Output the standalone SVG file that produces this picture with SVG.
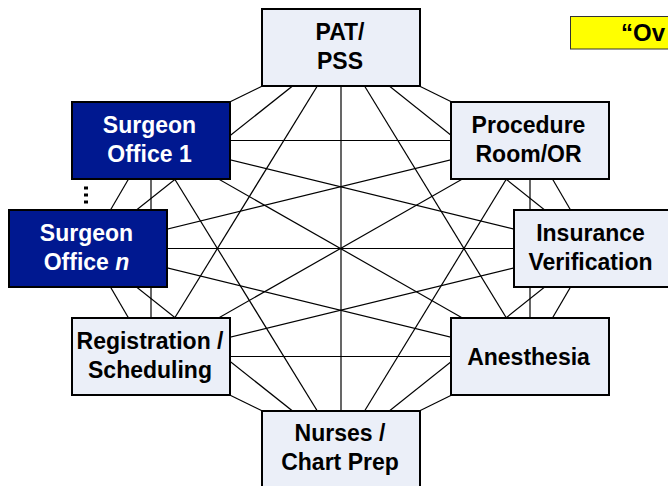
<svg xmlns="http://www.w3.org/2000/svg" width="668" height="486" viewBox="0 0 668 486">
<style>
.c line{stroke:#000;stroke-width:1.2}
.lt rect{fill:#EBEFF8;stroke:#000;stroke-width:2}
.dk rect{fill:#001890;stroke:#000;stroke-width:2}
text{font-family:"Liberation Sans",Arial,sans-serif;font-weight:bold;font-size:23px;text-anchor:middle}
.lt text{fill:#000}
.dk text{fill:#fff}
</style>
<rect width="668" height="486" fill="#fff"/>
<g id="connectors" class="c">
<line x1="341" y1="47.5" x2="530" y2="140.5"/>
<line x1="341" y1="47.5" x2="593" y2="248.5"/>
<line x1="341" y1="47.5" x2="530" y2="356.5"/>
<line x1="341" y1="47.5" x2="341" y2="449.5"/>
<line x1="341" y1="47.5" x2="151" y2="356.5"/>
<line x1="341" y1="47.5" x2="88" y2="248.5"/>
<line x1="341" y1="47.5" x2="151" y2="140.5"/>
<line x1="530" y1="140.5" x2="593" y2="248.5"/>
<line x1="530" y1="140.5" x2="530" y2="356.5"/>
<line x1="530" y1="140.5" x2="341" y2="449.5"/>
<line x1="530" y1="140.5" x2="151" y2="356.5"/>
<line x1="530" y1="140.5" x2="88" y2="248.5"/>
<line x1="530" y1="140.5" x2="151" y2="140.5"/>
<line x1="593" y1="248.5" x2="530" y2="356.5"/>
<line x1="593" y1="248.5" x2="341" y2="449.5"/>
<line x1="593" y1="248.5" x2="151" y2="356.5"/>
<line x1="593" y1="248.5" x2="88" y2="248.5"/>
<line x1="593" y1="248.5" x2="151" y2="140.5"/>
<line x1="530" y1="356.5" x2="341" y2="449.5"/>
<line x1="530" y1="356.5" x2="151" y2="356.5"/>
<line x1="530" y1="356.5" x2="88" y2="248.5"/>
<line x1="530" y1="356.5" x2="151" y2="140.5"/>
<line x1="341" y1="449.5" x2="151" y2="356.5"/>
<line x1="341" y1="449.5" x2="88" y2="248.5"/>
<line x1="341" y1="449.5" x2="151" y2="140.5"/>
<line x1="151" y1="356.5" x2="88" y2="248.5"/>
<line x1="151" y1="356.5" x2="151" y2="140.5"/>
<line x1="88" y1="248.5" x2="151" y2="140.5"/>
</g>
<g id="pat" class="lt"><rect x="262" y="9" width="158" height="77"/><text x="340" y="40">PAT/</text><text x="340" y="68.5">PSS</text></g>
<g id="procedure" class="lt"><rect x="451" y="102" width="158" height="77"/><text x="528.5" y="133">Procedure</text><text x="528.5" y="161.5">Room/OR</text></g>
<g id="insurance" class="lt"><rect x="514" y="210" width="158" height="77"/><text x="590.5" y="241">Insurance</text><text x="590.5" y="269.5">Verification</text></g>
<g id="anesthesia" class="lt"><rect x="451" y="318" width="158" height="77"/><text x="528.5" y="364.5">Anesthesia</text></g>
<g id="nurses" class="lt"><rect x="262" y="411" width="158" height="77"/><text x="340" y="441">Nurses /</text><text x="340" y="469.5">Chart Prep</text></g>
<g id="registration" class="lt"><rect x="72" y="318" width="158" height="77"/><text x="150" y="349">Registration /</text><text x="150" y="377.5">Scheduling</text></g>
<g id="surgeon-n" class="dk"><rect x="9" y="210" width="158" height="77"/><text x="86.5" y="241">Surgeon</text><text x="86.5" y="269.5">Office <tspan font-style="italic">n</tspan></text></g>
<g id="surgeon-1" class="dk"><rect x="72" y="102" width="158" height="77"/><text x="149.5" y="133">Surgeon</text><text x="149.5" y="161.5">Office 1</text></g>
<g id="dots"><rect x="84" y="186.5" width="4" height="3"/><rect x="84" y="193.5" width="4" height="3"/><rect x="84" y="200.5" width="4" height="3"/></g>
<g id="title"><rect x="570.5" y="16.5" width="110" height="32.5" fill="#FFFF00" stroke="#333" stroke-width="1"/><text x="621" y="41" style="text-anchor:start;font-size:24px">“Ov</text></g>
</svg>
